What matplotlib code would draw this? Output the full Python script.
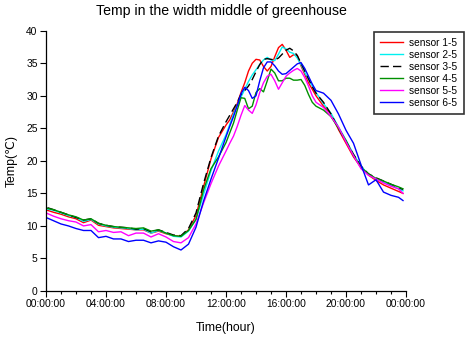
import numpy as np
import matplotlib
matplotlib.use("Agg")
import matplotlib.pyplot as plt
from matplotlib.ticker import MultipleLocator, FixedLocator

plt.rcParams['font.family'] = ['Liberation Sans', 'DejaVu Sans']

# time grid (hours)
hours = np.concatenate([[0.1], np.arange(0.5, 12.0, 0.5),
                        np.arange(12.0, 18.0, 0.25),
                        np.arange(18.0, 24.0, 0.5), [23.8]])

sensor_1_5 = [12.4, 12.1, 11.8, 11.4, 11.1, 10.5, 10.9, 10.1, 9.9, 9.7, 9.6, 9.5,
              9.4, 9.4, 8.9, 9.2, 8.8, 8.5, 8.4, 9.4, 11.6, 16.0, 20.3, 23.6,
              25.5, 26.3, 27.5, 28.8, 30.5, 32.0, 33.8, 35.0, 35.6, 35.5, 34.5, 33.8,
              34.5, 36.0, 37.4, 37.9, 37.0, 35.9, 36.3, 36.2, 34.6, 33.3, 32.0, 31.0,
              30.0, 28.4, 27.2, 24.8, 22.7, 20.6, 19.0, 17.8, 17.0, 16.3, 15.8, 15.3, 15.0]
sensor_2_5 = [12.6, 12.4, 12.0, 11.6, 11.3, 10.7, 11.0, 10.3, 10.0, 9.8, 9.7, 9.6,
              9.4, 9.5, 8.9, 9.3, 8.9, 8.4, 8.3, 9.2, 11.0, 14.8, 18.5, 21.5,
              24.0, 25.6, 27.2, 28.5, 29.8, 31.0, 32.2, 33.2, 34.0, 34.8, 35.5, 35.9,
              35.5, 35.4, 36.4, 37.5, 37.2, 36.7, 36.5, 35.8, 34.8, 33.6, 32.5, 31.5,
              30.5, 28.8, 27.3, 25.2, 23.2, 21.0, 19.2, 17.9, 17.2, 16.7, 16.2, 15.7, 15.4]
sensor_3_5 = [12.8, 12.5, 12.1, 11.7, 11.3, 10.9, 11.1, 10.4, 10.1, 9.9, 9.8, 9.7,
              9.5, 9.6, 9.1, 9.4, 9.0, 8.6, 8.5, 9.6, 12.0, 16.5, 20.5, 23.8,
              26.0, 27.0, 28.0, 29.0, 30.2, 30.8, 31.5, 32.5, 33.7, 34.8, 35.6, 35.7,
              35.6, 35.5, 35.8, 36.4, 37.0, 37.3, 36.9, 36.2, 35.0, 33.8, 32.6, 31.4,
              30.4, 29.0, 27.2, 25.0, 23.0, 21.0, 19.2, 18.0, 17.4, 16.9, 16.4, 15.9, 15.6]
sensor_4_5 = [12.7, 12.5, 12.1, 11.7, 11.4, 10.9, 11.1, 10.4, 10.1, 9.9, 9.8, 9.7,
              9.6, 9.7, 9.2, 9.4, 8.9, 8.5, 8.4, 9.3, 11.0, 15.5, 18.8, 20.6,
              22.8, 24.3, 25.8, 27.8, 29.7, 29.6, 28.0, 28.4, 30.5, 31.1, 30.6, 32.3,
              34.1, 33.5, 32.3, 32.3, 32.7, 32.7, 32.4, 32.4, 32.5, 31.6, 30.2, 29.0,
              28.4, 27.8, 26.8, 25.0, 23.1, 20.8, 19.0, 18.0, 17.3, 16.9, 16.4, 16.0, 15.7]
sensor_5_5 = [11.9, 11.5, 11.1, 10.8, 10.6, 10.0, 10.2, 9.1, 9.3, 9.0, 9.1, 8.5,
              8.9, 8.9, 8.3, 8.8, 8.3, 7.6, 7.4, 8.2, 10.3, 13.5, 16.5, 19.2,
              21.5, 22.7, 23.8, 25.3, 27.0, 28.5, 27.8, 27.3, 28.6, 30.5, 32.0, 33.0,
              33.3, 32.3, 31.0, 32.0, 33.0, 33.5, 33.9, 34.2, 33.8, 32.8, 31.5, 30.0,
              29.0, 28.2, 26.8, 25.2, 22.9, 20.8, 18.8, 17.8, 17.2, 16.6, 16.1, 15.7, 15.0]
sensor_6_5 = [11.2, 10.8, 10.3, 10.0, 9.6, 9.3, 9.3, 8.2, 8.4, 8.0, 8.0, 7.6,
              7.8, 7.8, 7.4, 7.7, 7.5, 6.8, 6.3, 7.2, 9.8, 13.8, 17.2, 20.4,
              23.7, 25.3, 26.8, 28.5, 30.3, 31.3, 30.8, 29.6, 30.0, 32.3, 34.3, 35.2,
              35.2, 34.6, 33.8, 33.3, 33.4, 33.9, 34.4, 34.9, 35.1, 34.2, 33.0, 31.8,
              30.8, 30.4, 29.3, 27.2, 24.7, 22.7, 19.4, 16.3, 17.1, 15.2, 14.7, 14.4, 13.9]

series = [sensor_1_5, sensor_2_5, sensor_3_5, sensor_4_5, sensor_5_5, sensor_6_5]
labels = ['sensor 1-5', 'sensor 2-5', 'sensor 3-5', 'sensor 4-5', 'sensor 5-5', 'sensor 6-5']
colors = ['#ff0000', '#00f0f0', '#000000', '#009000', '#ff00ff', '#0000ff']
styles = ['-', '-', (0, (6, 3)), '-', '-', '-']

xtick_pos = [0, 4, 8, 12, 16, 20, 24]
xtick_labels = ['00:00:00', '04:00:00', '08:00:00', '12:00:00', '16:00:00', '20:00:00', '00:00:00']

fig = plt.figure(figsize=(4.72, 3.37), dpi=100)
ax = fig.add_axes([46/472, 1 - 291/337, 360/472, (291 - 30.7)/337])

for y, lab, c, ls in zip(series, labels, colors, styles):
    ax.plot(hours, y, color=c, lw=1.0, ls=ls, label=lab,
            solid_joinstyle='round')

ax.set_xlim(0, 24)
ax.set_ylim(0, 40)
ax.xaxis.set_major_locator(FixedLocator(xtick_pos))
ax.set_xticklabels(xtick_labels)
ax.xaxis.set_minor_locator(MultipleLocator(1))
ax.yaxis.set_major_locator(MultipleLocator(5))
ax.spines['top'].set_visible(False)
ax.spines['right'].set_visible(False)
for s in ['left', 'bottom']:
    ax.spines[s].set_linewidth(0.9)
ax.tick_params(axis='both', which='major', direction='out', length=4, width=0.8,
               labelsize=7.4, pad=2)
ax.tick_params(axis='x', which='minor', direction='out', length=2.5, width=0.8)

ax.set_xlabel('Time(hour)', fontsize=8.8, labelpad=9)
ax.set_ylabel('Temp(℃)', fontsize=8.8, labelpad=6)
fig.text(221/472, 1 - 11/337, 'Temp in the width middle of greenhouse',
         ha='center', va='center', fontsize=10.2)

leg = fig.legend(loc='upper left', bbox_to_anchor=(374/472, 1 - 31.7/337),
                 fontsize=7.3, frameon=True, fancybox=False, edgecolor='black',
                 handlelength=2.3, handletextpad=0.6, labelspacing=0.2,
                 borderpad=0.6, borderaxespad=0)
leg.get_frame().set_linewidth(1.2)

fig.savefig('out.png', dpi=100)
